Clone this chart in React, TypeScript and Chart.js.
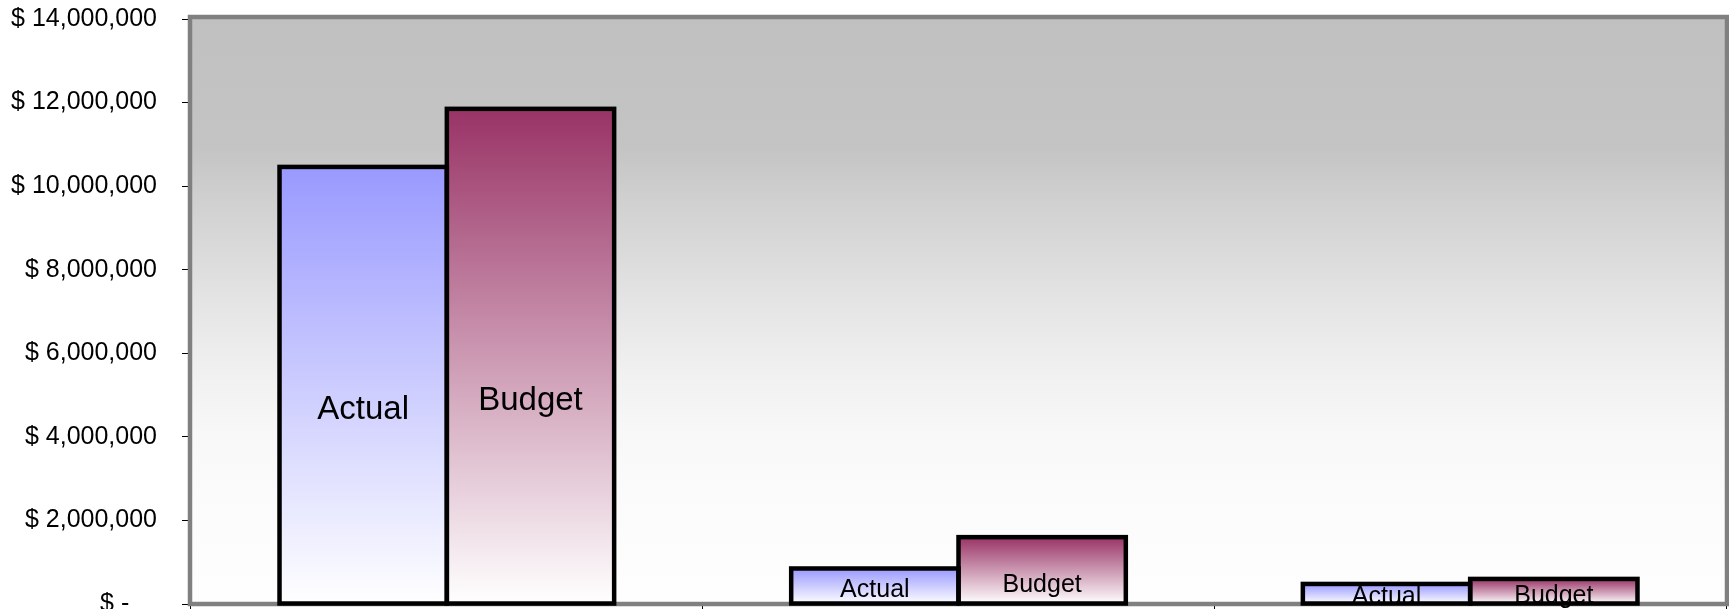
import React, { useEffect, useRef } from "react";
import { Chart, registerables } from "chart.js";

Chart.register(...registerables);

// ---- data ----
const categories = ["Category 1", "Category 2", "Category 3"];
const seriesNames = ["Actual", "Budget"];
const actualValues = [10460000, 850000, 480000];
const budgetValues = [11850000, 1600000, 600000];
const yTickValues = [0, 2000000, 4000000, 6000000, 8000000, 10000000, 12000000, 14000000];

// ---- styles ----
const FONT = "'Liberation Sans', Arial, sans-serif";
const actualTop = "#9999FF";
const budgetTop = "#993366";
const labelFontSizes = [33, 25, 25];

function barGradient(topColor: string) {
  return (ctx: any) => {
    const chart = ctx.chart;
    const scales = chart.scales;
    if (!chart.chartArea || !scales || !scales.y || ctx.type !== "data") return topColor;
    const y = scales.y.getPixelForValue(ctx.raw);
    const base = scales.y.getPixelForValue(0);
    if (!isFinite(y) || !isFinite(base) || base - y < 1) return topColor;
    const g = chart.ctx.createLinearGradient(0, y, 0, base);
    g.addColorStop(0, topColor);
    g.addColorStop(1, "#FFFFFF");
    return g;
  };
}

const plotBackground = {
  id: "plotBackground",
  beforeDraw(chart: any) {
    const { ctx, chartArea } = chart;
    if (!chartArea) return;
    const { left, top, right, bottom } = chartArea;
    const g = ctx.createLinearGradient(0, top, 0, bottom);
    g.addColorStop(0, "#C0C0C0");
    g.addColorStop(0.22, "#C4C4C4");
    g.addColorStop(0.31, "#D0D0D0");
    g.addColorStop(0.48, "#E4E4E4");
    g.addColorStop(0.6, "#F0F0F0");
    g.addColorStop(0.71, "#F8F8F8");
    g.addColorStop(0.82, "#FBFBFB");
    g.addColorStop(1, "#FEFEFE");
    ctx.save();
    ctx.fillStyle = g;
    ctx.fillRect(left, top, right - left, bottom - top);
    ctx.restore();
  },
  beforeDatasetsDraw(chart: any) {
    const { ctx, chartArea } = chart;
    const { left, top, right, bottom } = chartArea;
    ctx.save();
    ctx.strokeStyle = "#808080";
    ctx.lineWidth = 4.5;
    ctx.lineJoin = "miter";
    ctx.strokeRect(left - 1, top - 2, right - left + 2, bottom - top + 2);
    ctx.restore();
  },
};

const barDecor = {
  id: "barDecor",
  afterDatasetsDraw(chart: any) {
    const { ctx } = chart;
    ctx.save();
    ctx.strokeStyle = "#000000";
    ctx.lineWidth = 4.5;
    ctx.lineJoin = "miter";
    chart.data.datasets.forEach((_: any, di: number) => {
      const meta = chart.getDatasetMeta(di);
      meta.data.forEach((bar: any) => {
        const p = bar.getProps(["x", "y", "base", "width"], true);
        ctx.strokeRect(p.x - p.width / 2, p.y, p.width, p.base - p.y);
      });
    });
    ctx.fillStyle = "#000000";
    ctx.textAlign = "center";
    ctx.textBaseline = "alphabetic";
    const metas = chart.data.datasets.map((_: any, di: number) => chart.getDatasetMeta(di));
    chart.data.datasets.forEach((ds: any, di: number) => {
      metas[di].data.forEach((bar: any, i: number) => {
        const p = bar.getProps(["x", "y", "base", "width"], true);
        const heights = metas.map((m: any) => {
          const q = m.data[i].getProps(["y", "base"], true);
          return q.base - q.y;
        });
        const minH = Math.min(...heights);
        const ownH = p.base - p.y;
        const fs = labelFontSizes[i];
        ctx.font = `${fs}px ${FONT}`;
        const capCenter = p.base - 0.45 * minH - 0.15 * (ownH - minH);
        ctx.fillText(ds.label, p.x, capCenter + 0.358 * fs);
      });
    });
    ctx.restore();
  },
};

function formatTick(v: number) {
  if (v === 0) return "$ -    ";
  return "$ " + v.toLocaleString("en-US");
}

export default function App() {
  const canvasRef = useRef<HTMLCanvasElement | null>(null);

  useEffect(() => {
    document.body.style.margin = "0";
    document.body.style.overflow = "hidden";
    const canvas = canvasRef.current;
    if (!canvas) return;
    const chart = new Chart(canvas, {
      type: "bar",
      data: {
        labels: categories,
        datasets: [
          {
            label: seriesNames[0],
            data: actualValues,
            backgroundColor: barGradient(actualTop),
            borderWidth: 0,
            categoryPercentage: 0.654,
            barPercentage: 1,
          },
          {
            label: seriesNames[1],
            data: budgetValues,
            backgroundColor: barGradient(budgetTop),
            borderWidth: 0,
            categoryPercentage: 0.654,
            barPercentage: 1,
          },
        ],
      },
      options: {
        responsive: false,
        animation: false,
        devicePixelRatio: 1,
        layout: { padding: { top: 19, right: 3, left: 0, bottom: 0 } },
        plugins: {
          legend: { display: false },
          tooltip: { enabled: false },
          title: { display: false },
        },
        scales: {
          x: {
            ticks: { display: false },
            grid: {
              offset: true,
              drawOnChartArea: false,
              drawTicks: true,
              tickLength: 8,
              tickColor: "#000000",
              lineWidth: 1,
            },
            border: { display: false },
            afterFit: (scale: any) => {
              scale.height = 5;
              scale.paddingLeft = 0;
              scale.paddingRight = 0;
            },
          },
          y: {
            min: 0,
            max: 14000000,
            afterBuildTicks: (scale: any) => {
              scale.ticks = yTickValues.map((v) => ({ value: v }));
            },
            ticks: {
              padding: 25,
              color: "#000000",
              font: { family: FONT, size: 25 },
              callback: (v: any) => formatTick(Number(v)),
            },
            grid: {
              drawOnChartArea: false,
              drawTicks: true,
              tickLength: 9,
              tickColor: "#000000",
              lineWidth: 1,
            },
            border: { display: false },
            afterFit: (scale: any) => {
              scale.width = 191;
              scale.paddingTop = 0;
              scale.paddingBottom = 0;
            },
          },
        },
      },
      plugins: [plotBackground, barDecor],
    });
    return () => chart.destroy();
  }, []);

  return (
    <div style={{ width: 1729, height: 609, overflow: "hidden" }}>
      <canvas ref={canvasRef} width={1729} height={609} style={{ display: "block" }} />
    </div>
  );
}
